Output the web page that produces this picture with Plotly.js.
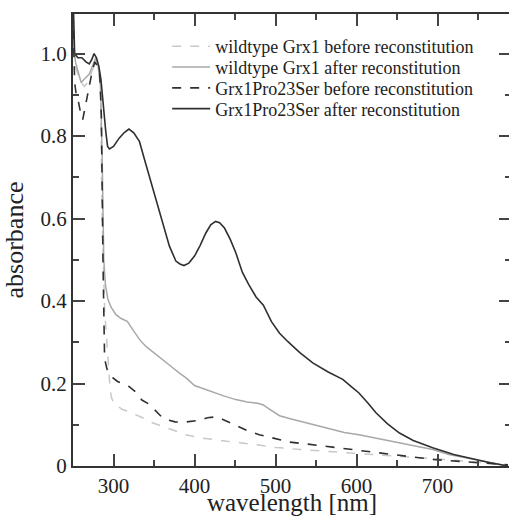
<!DOCTYPE html>
<html>
<head>
<meta charset="utf-8">
<script src="https://cdn.plot.ly/plotly-3.0.1.min.js"></script>
<style>html,body{margin:0;padding:0;overflow:hidden;background:#fff;}</style>
</head>
<body>
<div id="chart" style="width:511px;height:516px;"></div>
<script>
// wildtype Grx1 before reconstitution
const wtBeforeWl = [250,251,253,256,260,264,268,272,276,279,282,284,286,289,292,295,297,300,305,311,316,325,336,348,360,375,389,405,422,440,459,480,500,530,570,610,653,700,755,787];
const wtBeforeAbs = [1.1,1.0,0.97,0.95,0.93,0.92,0.93,0.95,0.97,0.975,0.96,0.92,0.6,0.38,0.28,0.21,0.17,0.152,0.145,0.137,0.134,0.127,0.117,0.105,0.097,0.086,0.076,0.069,0.064,0.06,0.056,0.05,0.045,0.04,0.035,0.03,0.024,0.017,0.008,0.003];

// wildtype Grx1 after reconstitution
const wtAfterWl = [250,251,253,256,260,265,270,275,278,281,284,286,288,290,293,297,303,310,317,324,332,340,348,356,364,372,381,390,400,411,422,436,451,465,478,485,491,497,505,517,529,545,565,585,603,628,653,673,694,714,735,755,776,787];
const wtAfterAbs = [1.12,1.02,0.98,0.96,0.93,0.94,0.95,0.975,0.99,0.97,0.92,0.75,0.5,0.44,0.405,0.385,0.367,0.357,0.351,0.33,0.307,0.29,0.278,0.266,0.252,0.24,0.226,0.213,0.195,0.187,0.179,0.17,0.161,0.155,0.152,0.148,0.14,0.132,0.122,0.115,0.109,0.1,0.09,0.081,0.076,0.066,0.056,0.048,0.04,0.028,0.02,0.012,0.004,0.0];

// Grx1Pro23Ser before reconstitution
const mutBeforeWl = [250,251,252,254,256,258,260,262,265,268,271,274,277,280,283,285,287,289,292,295,299,305,312,319,327,335,344,352,358,365,376,387,396,406,416,426,435,443,455,467,480,500,517,540,570,590,612,650,694,735,776,787];
const mutBeforeAbs = [1.1,1.0,0.93,0.9,0.89,0.87,0.85,0.84,0.87,0.9,0.93,0.96,0.98,0.97,0.95,0.85,0.5,0.26,0.235,0.225,0.214,0.205,0.198,0.193,0.18,0.16,0.15,0.135,0.122,0.113,0.107,0.106,0.108,0.111,0.117,0.119,0.113,0.106,0.095,0.084,0.076,0.066,0.058,0.053,0.046,0.04,0.036,0.027,0.016,0.01,0.005,0.003];

// Grx1Pro23Ser after reconstitution
const mutAfterWl = [250,251,252,256,261,266,270,273,276,279,282,284.5,286.5,288.5,290.5,292.7,295,300,307,313,319,325,332,338,344,350,356,362,369,377,382,387,393,400,407,414,420,426,431,437,444,451,459,467,476,485,495,505,515,530,546,565,583,595,603,614,624,638,653,670,694,720,743,765,787];
const mutAfterAbs = [1.15,1.06,1.0,0.99,0.99,0.98,0.975,0.985,1.0,0.99,0.968,0.937,0.89,0.848,0.81,0.775,0.769,0.775,0.795,0.808,0.817,0.808,0.787,0.745,0.703,0.662,0.622,0.58,0.533,0.497,0.49,0.486,0.492,0.509,0.535,0.565,0.585,0.593,0.59,0.577,0.55,0.517,0.47,0.44,0.41,0.39,0.35,0.322,0.302,0.275,0.25,0.228,0.21,0.19,0.177,0.153,0.129,0.103,0.08,0.062,0.044,0.028,0.017,0.008,0.0];

const seriesNames = ["wildtype Grx1 before reconstitution","wildtype Grx1 after reconstitution","Grx1Pro23Ser before reconstitution","Grx1Pro23Ser after reconstitution"];
const xTickVals = [300,400,500,600,700];
const yTickVals = [0,0.2,0.4,0.6,0.8,1.0];
const yTickText = ["0","0.2","0.4","0.6","0.8","1.0"];

const font = "Liberation Serif, Times New Roman, serif";
const legendIds = ['legend','legend2','legend3','legend4'];
const traces = [
  {x: wtBeforeWl, y: wtBeforeAbs, name: seriesNames[0], line:{color:'#c8c8c8', width:1.5, dash:'dash'}},
  {x: wtAfterWl, y: wtAfterAbs, name: seriesNames[1], line:{color:'#a8a8a8', width:1.5}},
  {x: mutBeforeWl, y: mutBeforeAbs, name: seriesNames[2], line:{color:'#303030', width:1.6, dash:'dash'}},
  {x: mutAfterWl, y: mutAfterAbs, name: seriesNames[3], line:{color:'#303030', width:1.6}}
].map((t, i) => Object.assign({type:'scatter', mode:'lines', legend: legendIds[i]}, t));

const xRange = [250, 790.7];
const yRange = [0, 1.096];

const axisCommon = {
  showgrid:false, zeroline:false, showline:true, linecolor:'#333', linewidth:2,
  mirror:'ticks', ticks:'inside', ticklen:12, tickwidth:2, tickcolor:'#444',
  tickfont:{family:font, size:21, color:'#222'}
};

const legendRowsY = [0.928, 0.882, 0.836, 0.790];
const layout = {
  width:511, height:516,
  margin:{l:73, r:0, t:14, b:50},
  paper_bgcolor:'#fff', plot_bgcolor:'#fff',
  showlegend:true,
  xaxis: Object.assign({}, axisCommon, {
    range:xRange, tickmode:'array', tickvals:xTickVals,
    minor:{tickmode:'linear', tick0:250, dtick:50, ticks:'inside', ticklen:6, tickwidth:2, tickcolor:'#444', showgrid:false},
    title:{text:'wavelength [nm]', font:{family:font, size:25, color:'#222'}}
  }),
  yaxis: Object.assign({}, axisCommon, {
    range:yRange, tickmode:'array', tickvals:yTickVals, ticktext:yTickText,
    minor:{tickmode:'linear', tick0:0, dtick:0.1, ticks:'inside', ticklen:6, tickwidth:2, tickcolor:'#444', showgrid:false},
    title:{text:'absorbance', font:{family:font, size:26, color:'#222'}}
  })
};

legendIds.forEach((id, i) => {
  layout[id] = {x:0.215, y:legendRowsY[i], xanchor:'left', yanchor:'middle', bgcolor:'rgba(0,0,0,0)',
                itemwidth:38, font:{family:font, size:18, color:'#222'}};
});

Plotly.newPlot('chart', traces, layout, {displayModeBar:false});
</script>
</body>
</html>
